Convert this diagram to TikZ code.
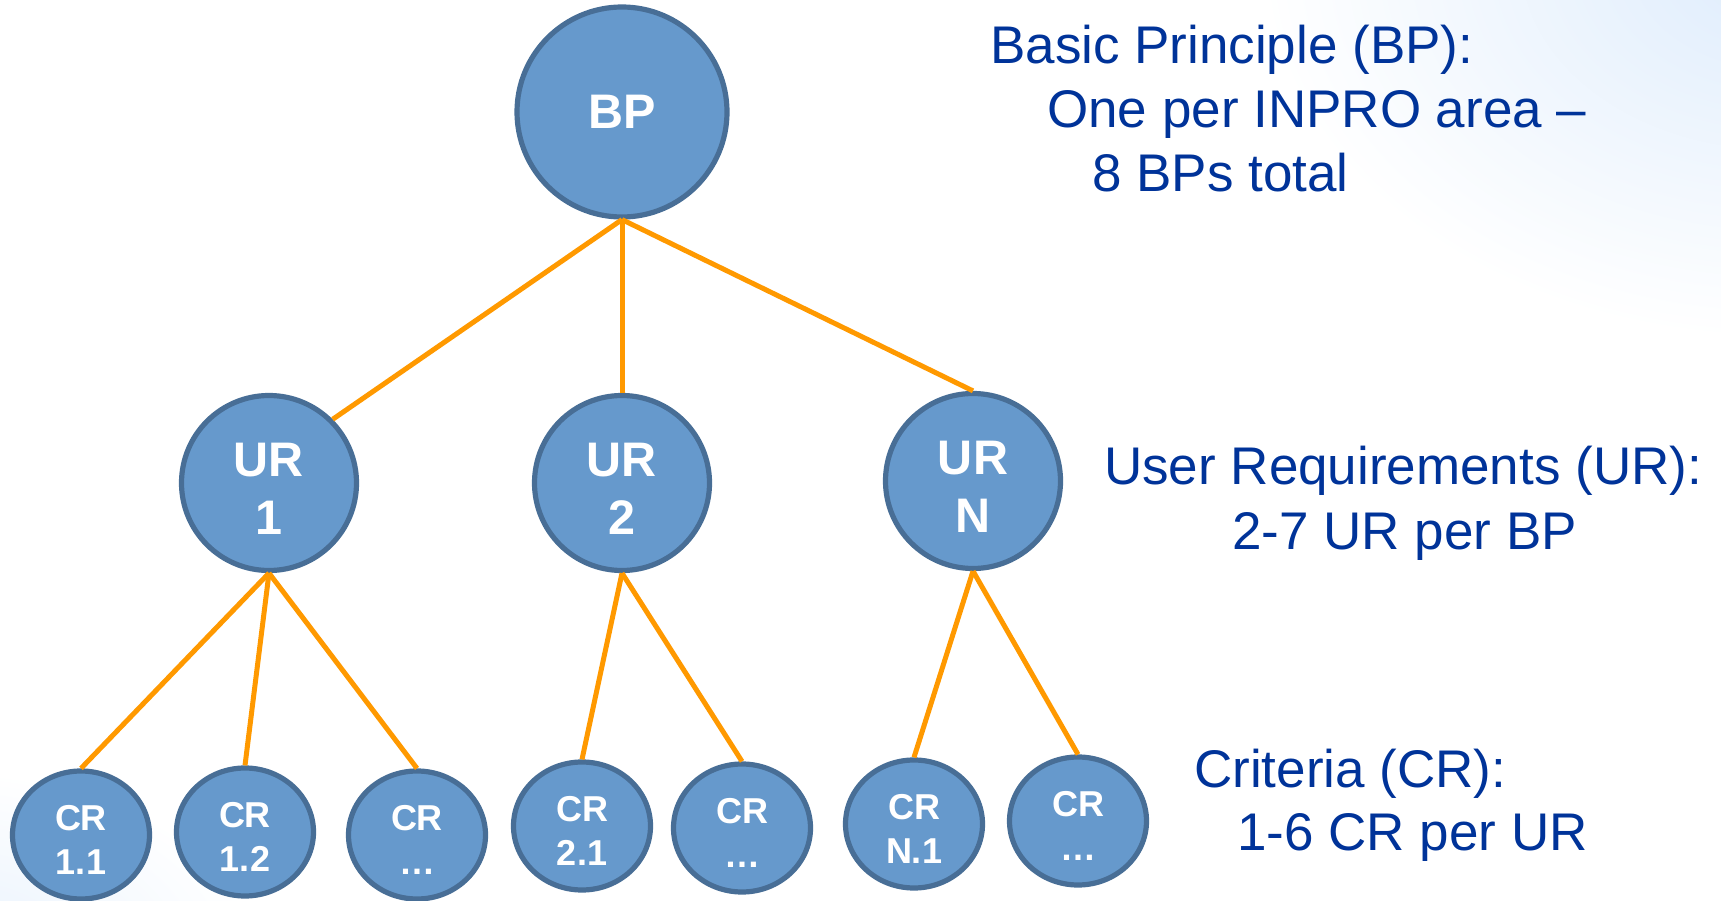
\documentclass[tikz,border=0pt]{standalone}
\usepackage{fontspec}
\setmainfont{Liberation Sans}
\usetikzlibrary{shapes.geometric}
\definecolor{nodefill}{RGB}{102,153,204}
\definecolor{nodeedge}{RGB}{72,110,150}
\definecolor{linkor}{RGB}{255,153,0}
\definecolor{txtblue}{RGB}{0,51,153}
\definecolor{bgblue}{RGB}{222,236,252}
\newcommand{\uptop}{\rule{0pt}{45pt}}
\newcommand{\crtop}{\rule{0pt}{34pt}}
\begin{document}
\begin{tikzpicture}[x=1pt,y=-1pt,
  bubble/.style={circle, fill=nodefill, draw=nodeedge, line width=5.2pt, text=white,
    font=\bfseries\fontsize{48.5}{58}\selectfont, align=center, inner sep=0pt, minimum size=175pt},
  bigbubble/.style={bubble, minimum size=210pt},
  crbubble/.style={ellipse, fill=nodefill, draw=nodeedge, line width=5.2pt, text=white,
    font=\bfseries\fontsize{36}{44}\selectfont, align=center, inner sep=0pt,
    minimum width=137pt, minimum height=128pt},
  link/.style={draw=linkor, line width=5pt},
  lbl/.style={text=txtblue, font=\fontsize{53}{64}\selectfont, anchor=base west, inner sep=0pt}
]
\useasboundingbox (0,0) rectangle (1721,901);
\begin{scope}
  \clip (0,0) rectangle (1721,901);
  \shade[inner color=bgblue, outer color=white] (1780,-40) ellipse [x radius=520, y radius=380];
  \shade[inner color=bgblue!70!white, outer color=white] (-60,960) ellipse [x radius=320, y radius=190];
\end{scope}

% nodes
\node[bigbubble] (bp) at (622,112) {BP};
\node[bubble] (ur1) at (269,483) {\uptop UR\\1};
\node[bubble] (ur2) at (622,483) {\uptop UR\\2};
\node[bubble] (urn) at (973,481) {\uptop UR\\N};

\node[crbubble] (cr11) at (81,835) {\crtop CR\\1.1};
\node[crbubble] (cr12) at (245,832) {\crtop CR\\1.2};
\node[crbubble] (cr1x) at (417,835) {\crtop CR\\…};
\node[crbubble] (cr21) at (582,826) {\crtop CR\\2.1};
\node[crbubble] (cr2x) at (742,828) {\crtop CR\\…};
\node[crbubble] (crn1) at (914,824) {\crtop CR\\N.1};
\node[crbubble] (crnx) at (1078,821) {\crtop CR\\…};

% connectors
\draw[link] (bp.south) -- (ur1.45);
\draw[link] (bp.south) -- (ur2.north);
\draw[link] (bp.south) -- (urn.north);
\draw[link] (ur1.south) -- (cr11.north);
\draw[link] (ur1.south) -- (cr12.north);
\draw[link] (ur1.south) -- (cr1x.north);
\draw[link] (ur2.south) -- (cr21.north);
\draw[link] (ur2.south) -- (cr2x.north);
\draw[link] (urn.south) -- (crn1.north);
\draw[link] (urn.south) -- (crnx.north);

% labels
\node[lbl] (bpt1) at (990,64) {Basic Principle (BP):};
\node[lbl] (bpt2) at (1047,128) {One per INPRO area –};
\node[lbl] (bpt3) at (1092,192) {8 BPs total};
\node[lbl] (urt1) at (1104,484) {User Requirements (UR):};
\node[lbl] (urt2) at (1232,549) {2-7 UR per BP};
\node[lbl] (crt1) at (1194,787) {Criteria (CR):};
\node[lbl] (crt2) at (1237,850) {1-6 CR per UR};
\end{tikzpicture}
\end{document}
